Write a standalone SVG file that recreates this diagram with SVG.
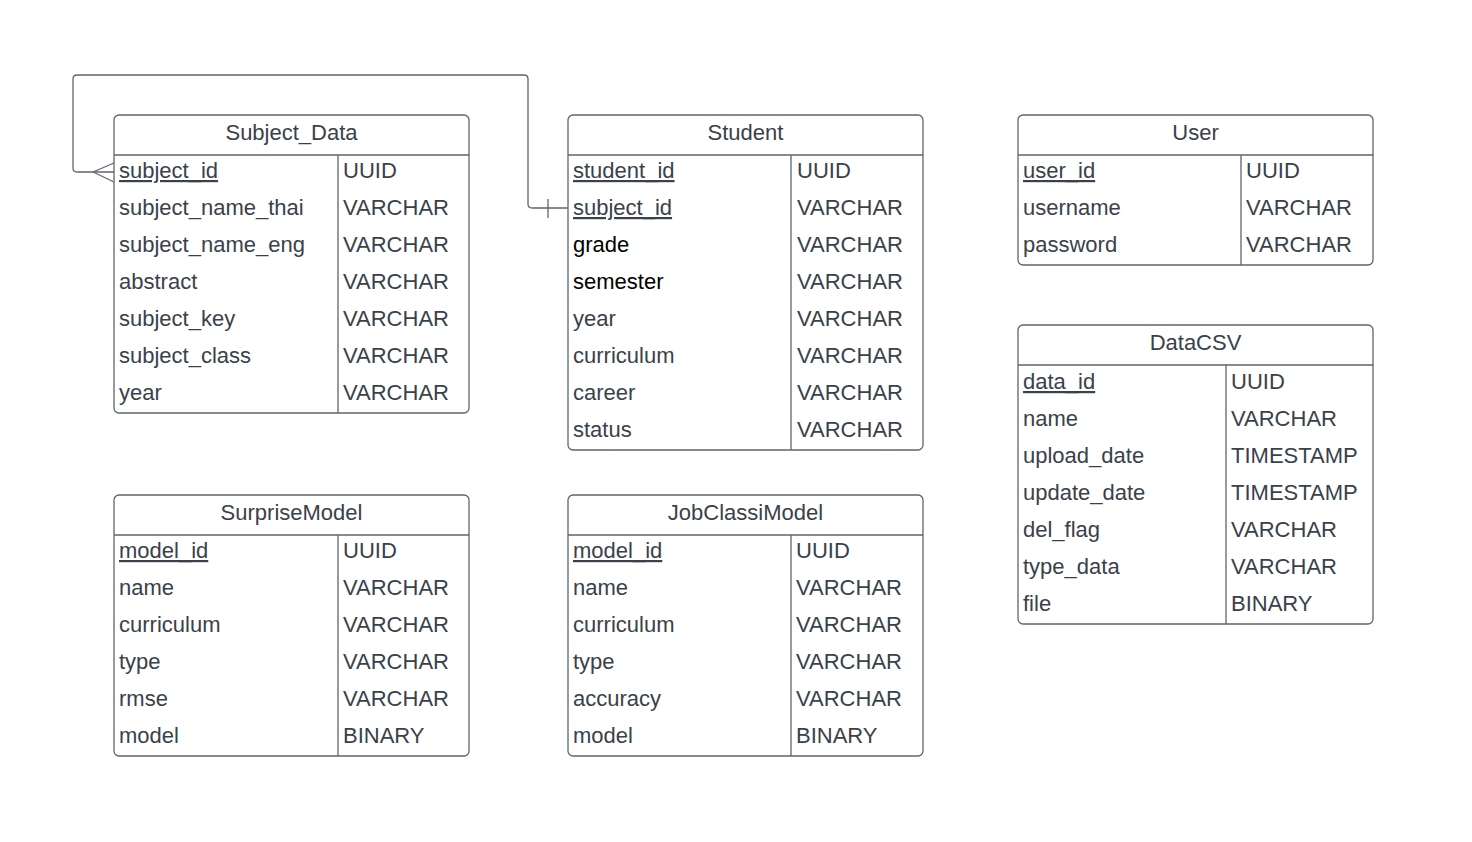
<svg xmlns="http://www.w3.org/2000/svg" width="1472" height="842" viewBox="0 0 1472 842">
<style>
.box{fill:#fff;stroke:#5f6670;stroke-width:1.3}
.ln{stroke:#5f6670;stroke-width:1.3;fill:none}
.t{font-family:"Liberation Sans",Arial,sans-serif;font-size:22px;fill:#3a414a}
.h{text-anchor:middle}
.k{text-decoration:underline}
.b{fill:#000}
.c{stroke:#5f6670;stroke-width:1.3;fill:none}
</style>
<rect width="1472" height="842" fill="#fff"/>
<g id="connectors">
<path class="c" d="M114,172 H77 Q73,172 73,168 V79 Q73,75 77,75 H524 Q528,75 528,79 V204 Q528,208 532,208 H568"/>
<path class="c" d="M93,172 L114,163 M93,172 L114,182"/>
<path class="c" d="M548,199 V218"/>
</g>
<g id="Subject_Data">
<rect class="box" x="114" y="115" width="355" height="298" rx="5"/>
<path class="ln" d="M114,155 H469 M338,155 V413"/>
<text class="t h" x="291.5" y="140">Subject_Data</text>
<text class="t k" x="119" y="178">subject_id</text><text class="t" x="343" y="178">UUID</text>
<text class="t" x="119" y="215">subject_name_thai</text><text class="t" x="343" y="215">VARCHAR</text>
<text class="t" x="119" y="252">subject_name_eng</text><text class="t" x="343" y="252">VARCHAR</text>
<text class="t" x="119" y="289">abstract</text><text class="t" x="343" y="289">VARCHAR</text>
<text class="t" x="119" y="326">subject_key</text><text class="t" x="343" y="326">VARCHAR</text>
<text class="t" x="119" y="363">subject_class</text><text class="t" x="343" y="363">VARCHAR</text>
<text class="t" x="119" y="400">year</text><text class="t" x="343" y="400">VARCHAR</text>
</g>
<g id="Student">
<rect class="box" x="568" y="115" width="355" height="335" rx="5"/>
<path class="ln" d="M568,155 H923 M791,155 V450"/>
<text class="t h" x="745.5" y="140">Student</text>
<text class="t k" x="573" y="178">student_id</text><text class="t" x="797" y="178">UUID</text>
<text class="t k" x="573" y="215">subject_id</text><text class="t" x="797" y="215">VARCHAR</text>
<text class="t b" x="573" y="252">grade</text><text class="t" x="797" y="252">VARCHAR</text>
<text class="t b" x="573" y="289">semester</text><text class="t" x="797" y="289">VARCHAR</text>
<text class="t" x="573" y="326">year</text><text class="t" x="797" y="326">VARCHAR</text>
<text class="t" x="573" y="363">curriculum</text><text class="t" x="797" y="363">VARCHAR</text>
<text class="t" x="573" y="400">career</text><text class="t" x="797" y="400">VARCHAR</text>
<text class="t" x="573" y="437">status</text><text class="t" x="797" y="437">VARCHAR</text>
</g>
<g id="User">
<rect class="box" x="1018" y="115" width="355" height="150" rx="5"/>
<path class="ln" d="M1018,155 H1373 M1241,155 V265"/>
<text class="t h" x="1195.5" y="140">User</text>
<text class="t k" x="1023" y="178">user_id</text><text class="t" x="1246" y="178">UUID</text>
<text class="t" x="1023" y="215">username</text><text class="t" x="1246" y="215">VARCHAR</text>
<text class="t" x="1023" y="252">password</text><text class="t" x="1246" y="252">VARCHAR</text>
</g>
<g id="DataCSV">
<rect class="box" x="1018" y="325" width="355" height="299" rx="5"/>
<path class="ln" d="M1018,365 H1373 M1226,365 V624"/>
<text class="t h" x="1195.5" y="350">DataCSV</text>
<text class="t k" x="1023" y="389">data_id</text><text class="t" x="1231" y="389">UUID</text>
<text class="t" x="1023" y="426">name</text><text class="t" x="1231" y="426">VARCHAR</text>
<text class="t" x="1023" y="463">upload_date</text><text class="t" x="1231" y="463">TIMESTAMP</text>
<text class="t" x="1023" y="500">update_date</text><text class="t" x="1231" y="500">TIMESTAMP</text>
<text class="t" x="1023" y="537">del_flag</text><text class="t" x="1231" y="537">VARCHAR</text>
<text class="t" x="1023" y="574">type_data</text><text class="t" x="1231" y="574">VARCHAR</text>
<text class="t" x="1023" y="611">file</text><text class="t" x="1231" y="611">BINARY</text>
</g>
<g id="SurpriseModel">
<rect class="box" x="114" y="495" width="355" height="261" rx="5"/>
<path class="ln" d="M114,535 H469 M338,535 V756"/>
<text class="t h" x="291.5" y="520">SurpriseModel</text>
<text class="t k" x="119" y="558">model_id</text><text class="t" x="343" y="558">UUID</text>
<text class="t" x="119" y="595">name</text><text class="t" x="343" y="595">VARCHAR</text>
<text class="t" x="119" y="632">curriculum</text><text class="t" x="343" y="632">VARCHAR</text>
<text class="t" x="119" y="669">type</text><text class="t" x="343" y="669">VARCHAR</text>
<text class="t" x="119" y="706">rmse</text><text class="t" x="343" y="706">VARCHAR</text>
<text class="t" x="119" y="743">model</text><text class="t" x="343" y="743">BINARY</text>
</g>
<g id="JobClassiModel">
<rect class="box" x="568" y="495" width="355" height="261" rx="5"/>
<path class="ln" d="M568,535 H923 M791,535 V756"/>
<text class="t h" x="745.5" y="520">JobClassiModel</text>
<text class="t k" x="573" y="558">model_id</text><text class="t" x="796" y="558">UUID</text>
<text class="t" x="573" y="595">name</text><text class="t" x="796" y="595">VARCHAR</text>
<text class="t" x="573" y="632">curriculum</text><text class="t" x="796" y="632">VARCHAR</text>
<text class="t" x="573" y="669">type</text><text class="t" x="796" y="669">VARCHAR</text>
<text class="t" x="573" y="706">accuracy</text><text class="t" x="796" y="706">VARCHAR</text>
<text class="t" x="573" y="743">model</text><text class="t" x="796" y="743">BINARY</text>
</g>
</svg>
